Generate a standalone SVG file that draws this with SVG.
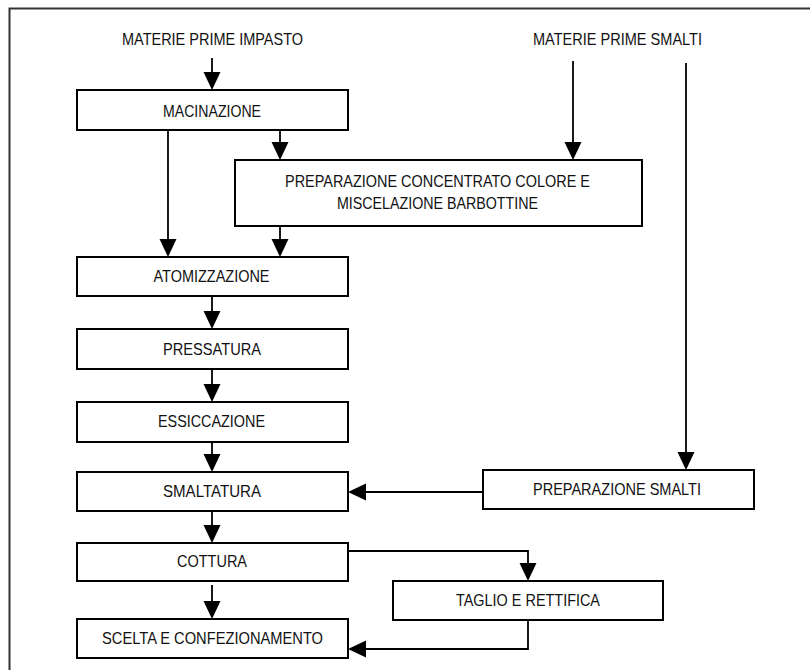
<svg xmlns="http://www.w3.org/2000/svg" width="810" height="670" viewBox="0 0 810 670">
<defs>
<marker id="ah" markerUnits="userSpaceOnUse" markerWidth="18" markerHeight="18" refX="16" refY="8.5" orient="auto" viewBox="0 0 18 17">
<path d="M0,0 L18,8.5 L0,17 z" fill="#000"/>
</marker>
</defs>
<style>
.box{fill:#fff;stroke:#000;stroke-width:2}
.t{font-family:"Liberation Sans",Arial,sans-serif;font-size:16.5px;fill:#111;text-anchor:middle}
.c{fill:none;stroke:#000;stroke-width:1.8}
.a{marker-end:url(#ah)}
</style>
<rect x="0" y="0" width="810" height="670" fill="#fff"/>
<path d="M9.5,672 V8.5 H812" fill="none" stroke="#333" stroke-width="2"/>

<g id="connectors">
<path class="c a" d="M212,58 V88"/>
<path class="c a" d="M168,130 V255"/>
<path class="c a" d="M280,130 V158"/>
<path class="c a" d="M573,61 V158"/>
<path class="c a" d="M280,226 V255"/>
<path class="c a" d="M686,63 V468"/>
<path class="c a" d="M212,296 V327"/>
<path class="c a" d="M212,369 V400"/>
<path class="c a" d="M212,442 V470"/>
<path class="c a" d="M483,492 H350"/>
<path class="c a" d="M212,511 V541"/>
<path class="c a" d="M348,551 H528 V579"/>
<path class="c a" d="M212,585 V617"/>
<path class="c a" d="M528,620 V649 H350"/>
</g>

<g id="src-impasto"><text class="t" x="212.5" y="45" textLength="181" lengthAdjust="spacingAndGlyphs">MATERIE PRIME IMPASTO</text></g>
<g id="src-smalti"><text class="t" x="617.5" y="45" textLength="169" lengthAdjust="spacingAndGlyphs">MATERIE PRIME SMALTI</text></g>

<g id="macinazione"><rect class="box" x="77" y="90" width="271" height="40"/><text class="t" x="212" y="117" textLength="98" lengthAdjust="spacingAndGlyphs">MACINAZIONE</text></g>
<g id="preparazione-concentrato"><rect class="box" x="235" y="160" width="407" height="66"/>
<text class="t" x="437.5" y="187" textLength="305" lengthAdjust="spacingAndGlyphs">PREPARAZIONE CONCENTRATO COLORE E</text>
<text class="t" x="437.5" y="209" textLength="201" lengthAdjust="spacingAndGlyphs">MISCELAZIONE BARBOTTINE</text></g>
<g id="atomizzazione"><rect class="box" x="77" y="257" width="271" height="39"/><text class="t" x="211.5" y="282" textLength="116" lengthAdjust="spacingAndGlyphs">ATOMIZZAZIONE</text></g>
<g id="pressatura"><rect class="box" x="77" y="329" width="271" height="40"/><text class="t" x="212" y="355" textLength="98" lengthAdjust="spacingAndGlyphs">PRESSATURA</text></g>
<g id="essiccazione"><rect class="box" x="77" y="402" width="271" height="40"/><text class="t" x="211.5" y="427" textLength="107" lengthAdjust="spacingAndGlyphs">ESSICCAZIONE</text></g>
<g id="smaltatura"><rect class="box" x="77" y="472" width="271" height="39"/><text class="t" x="212" y="497" textLength="98" lengthAdjust="spacingAndGlyphs">SMALTATURA</text></g>
<g id="preparazione-smalti"><rect class="box" x="483" y="470" width="271" height="39"/><text class="t" x="617" y="495" textLength="168" lengthAdjust="spacingAndGlyphs">PREPARAZIONE SMALTI</text></g>
<g id="cottura"><rect class="box" x="77" y="543" width="271" height="38"/><text class="t" x="212" y="567" textLength="70" lengthAdjust="spacingAndGlyphs">COTTURA</text></g>
<g id="taglio"><rect class="box" x="393" y="581" width="270" height="39"/><text class="t" x="528" y="606" textLength="144" lengthAdjust="spacingAndGlyphs">TAGLIO E RETTIFICA</text></g>
<g id="scelta"><rect class="box" x="77" y="619" width="271" height="39"/><text class="t" x="212.5" y="644" textLength="221" lengthAdjust="spacingAndGlyphs">SCELTA E CONFEZIONAMENTO</text></g>
</svg>
